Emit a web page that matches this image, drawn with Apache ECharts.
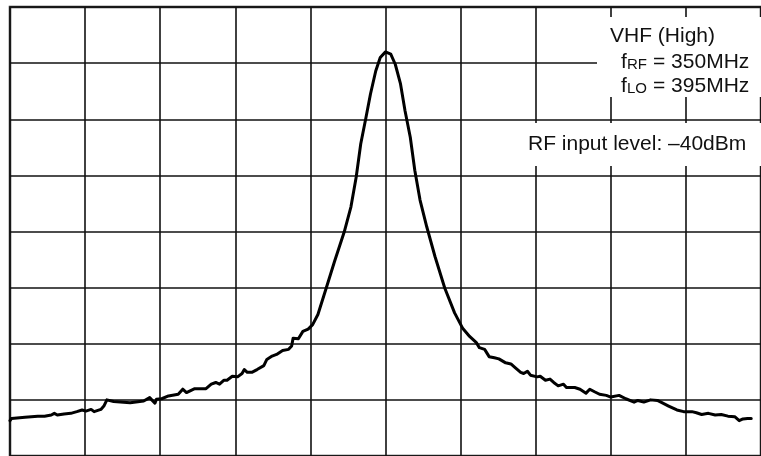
<!DOCTYPE html>
<html>
<head>
<meta charset="utf-8">
<script src="https://cdn.jsdelivr.net/npm/echarts@6/dist/echarts.min.js"></script>
<style>
html,body{margin:0;padding:0;background:#fff;}
#chart{width:761px;height:456px;}
</style>
</head>
<body>
<div id="chart"></div>
<script>
// x in horizontal divisions (0..10), y in vertical divisions (0..8)
var xDiv = [0,0.02,0.20,0.37,0.46,0.55,0.59,0.63,0.72,0.81,0.89,0.96,1.01,1.08,1.12,1.21,1.25,1.29,1.38,1.60,1.78,1.86,1.93,1.95,2.02,2.11,2.24,2.30,2.35,2.46,2.61,2.68,2.74,2.79,2.85,2.89,2.96,3.03,3.09,3.12,3.16,3.22,3.29,3.38,3.42,3.49,3.55,3.63,3.71,3.75,3.77,3.84,3.90,3.97,4.03,4.10,4.21,4.32,4.45,4.54,4.61,4.67,4.74,4.80,4.87,4.93,5.00,5.07,5.13,5.20,5.26,5.33,5.39,5.46,5.55,5.66,5.79,5.92,6.03,6.12,6.21,6.25,6.32,6.38,6.45,6.51,6.60,6.67,6.73,6.80,6.84,6.89,6.93,7.02,7.06,7.13,7.19,7.24,7.30,7.37,7.41,7.52,7.59,7.67,7.72,7.79,7.85,7.94,8.00,8.11,8.20,8.31,8.36,8.44,8.53,8.62,8.68,8.77,8.88,8.97,9.08,9.14,9.21,9.30,9.39,9.47,9.56,9.65,9.71,9.76,9.82,9.87];
var yDiv = [0.63,0.67,0.69,0.71,0.71,0.73,0.76,0.73,0.75,0.76,0.79,0.82,0.80,0.83,0.79,0.83,0.89,1.00,0.97,0.95,0.98,1.04,0.94,1.01,1.02,1.07,1.10,1.19,1.13,1.20,1.20,1.28,1.31,1.28,1.35,1.35,1.42,1.41,1.47,1.54,1.49,1.49,1.54,1.61,1.72,1.78,1.81,1.88,1.90,1.96,2.10,2.09,2.22,2.26,2.34,2.52,2.99,3.46,3.99,4.44,4.97,5.56,6.03,6.45,6.86,7.10,7.20,7.16,6.98,6.63,6.15,5.68,5.09,4.56,4.08,3.55,2.99,2.55,2.27,2.13,2.02,1.93,1.90,1.77,1.75,1.73,1.66,1.64,1.57,1.49,1.47,1.51,1.44,1.41,1.42,1.35,1.37,1.31,1.25,1.28,1.22,1.22,1.19,1.12,1.19,1.14,1.10,1.08,1.05,1.08,1.02,0.96,0.99,0.96,1.00,0.99,0.95,0.89,0.82,0.79,0.79,0.77,0.74,0.76,0.73,0.74,0.71,0.70,0.63,0.66,0.67,0.67];
var titleText = 'VHF (High)';
var rfLine = ['f', 'RF', '= 350MHz'];
var loLine = ['f', 'LO', '= 395MHz'];
var levelText = 'RF input level: \u201340dBm';

var data = xDiv.map(function(x, i){ return [x, yDiv[i]]; });
var chart = echarts.init(document.getElementById('chart'), null, {renderer:'canvas'});
var FONT = '"Liberation Sans", Arial, sans-serif';
function big(t, x, y){ return {type:'text', x:x, y:y, z:11, style:{text:t, font:'21px '+FONT, fill:'#111', verticalAlign:'middle'}}; }
function small(t, x, y){ return {type:'text', x:x, y:y, z:11, style:{text:t, font:'15px '+FONT, fill:'#111', verticalAlign:'middle'}}; }
chart.setOption({
  animation:false,
  backgroundColor:'#fff',
  grid:{left:10, top:7, width:760, height:450, show:true, borderColor:'#333', borderWidth:2.5, backgroundColor:'transparent'},
  xAxis:{type:'value', min:0, max:10, interval:1, axisLabel:{show:false}, axisTick:{show:false}, axisLine:{show:false},
    splitLine:{show:true, lineStyle:{color:'#111', width:1.6}}},
  yAxis:{type:'value', min:0, max:8, interval:1, axisLabel:{show:false}, axisTick:{show:false}, axisLine:{show:false},
    splitLine:{show:true, lineStyle:{color:'#111', width:1.6}}},
  series:[{type:'line', data:data, showSymbol:false, symbol:'none', smooth:false, z:5,
    lineStyle:{color:'#000', width:3, join:'round', cap:'round'}}],
  graphic:[
    {type:'rect', shape:{x:597, y:17, width:180, height:80}, style:{fill:'#fff'}, z:10},
    {type:'rect', shape:{x:520, y:123, width:250, height:43}, style:{fill:'#fff'}, z:10},
    big(titleText, 610, 36),
    big(rfLine[0], 621, 62.7), small(rfLine[1], 627, 64.6), big(rfLine[2], 653, 62.7),
    big(loLine[0], 621, 86.7), small(loLine[1], 627, 88.6), big(loLine[2], 653, 86.7),
    big(levelText, 528, 144)
  ]
});
</script>
</body>
</html>
